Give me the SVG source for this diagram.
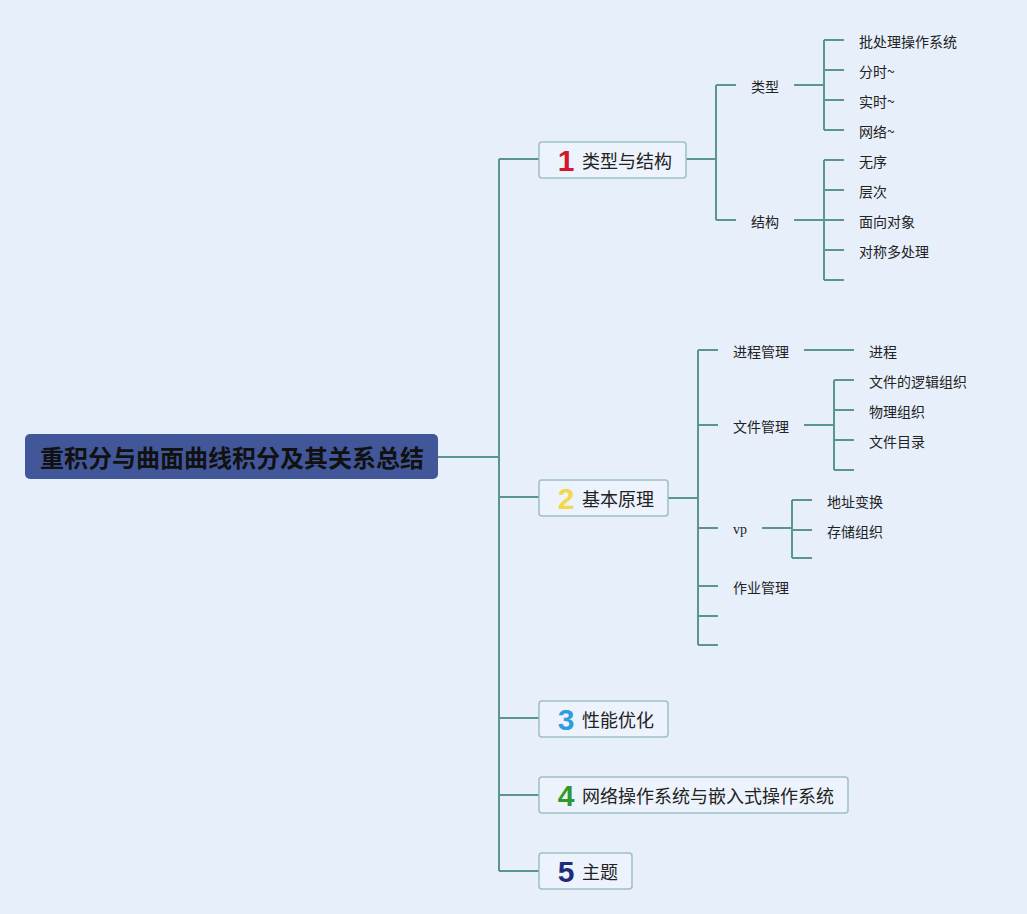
<svg xmlns="http://www.w3.org/2000/svg" width="1027" height="914" viewBox="0 0 1027 914">
<style>
.bg{fill:#E7EFFB}
.ln{fill:none;stroke:#5B958F;stroke-width:2}
.box{fill:#EDF3FC;stroke:#9CC1C5;stroke-width:1.5}
.root{fill:#42579A}
.rt{font-family:"Noto Sans CJK SC","Liberation Sans",sans-serif;font-weight:bold;font-size:24px;fill:#111}
.bt{font-family:"Noto Sans CJK SC","Liberation Sans",sans-serif;font-size:18px;fill:#222}
.num{font-family:"Liberation Sans","Noto Sans",sans-serif;font-weight:bold;font-size:30px;text-anchor:middle}
.st{font-family:"Noto Sans CJK SC","Liberation Sans",sans-serif;font-size:14px;fill:#222}
.vp{font-family:"Liberation Serif",serif;font-size:14px;fill:#222}
</style>
<rect class="bg" x="0" y="0" width="1027" height="914"/>
<g id="connectors">
<path class="ln" d="M438 457H499M499 159V871M499 159H539M499 497H539M499 718H539M499 795H539M499 871H539"/>
<path class="ln" d="M686 159H716M716 85V220M716 85H736M716 220H736"/>
<path class="ln" d="M794 85H824M824 40V130M824 40H844M824 70H844M824 100H844M824 130H844"/>
<path class="ln" d="M794 220H824M824 160V280M824 160H844M824 190H844M824 220H844M824 250H844M824 280H844"/>
<path class="ln" d="M668 498H698M698 350V645M698 350H718M698 425H718M698 528H718M698 586H718M698 616H718M698 645H718"/>
<path class="ln" d="M804 350H854"/>
<path class="ln" d="M804 425H834M834 380V470M834 380H854M834 410H854M834 440H854M834 470H854"/>
<path class="ln" d="M762 528H792M792 500V558M792 500H812M792 530H812M792 558H812"/>
</g>
<g id="root">
<rect class="root" x="25" y="434" width="413" height="45" rx="5"/>
<text class="rt" x="232" y="467" text-anchor="middle">重积分与曲面曲线积分及其关系总结</text>
</g>
<g id="n1">
<rect class="box" x="539" y="142" width="147" height="36" rx="3"/>
<text class="num" x="566" y="171" fill="#D3172C">1</text>
<text class="bt" x="582" y="168">类型与结构</text>
</g>
<g id="n2">
<rect class="box" x="539" y="480" width="129" height="36" rx="3"/>
<text class="num" x="566" y="509" fill="#F2D84A">2</text>
<text class="bt" x="582" y="506">基本原理</text>
</g>
<g id="n3">
<rect class="box" x="539" y="701" width="129" height="36" rx="3"/>
<text class="num" x="566" y="730" fill="#2E9DE0">3</text>
<text class="bt" x="582" y="727">性能优化</text>
</g>
<g id="n4">
<rect class="box" x="539" y="777" width="309" height="36" rx="3"/>
<text class="num" x="566" y="806" fill="#2E9A2E">4</text>
<text class="bt" x="582" y="803">网络操作系统与嵌入式操作系统</text>
</g>
<g id="n5">
<rect class="box" x="539" y="853" width="93" height="36" rx="3"/>
<text class="num" x="566" y="882" fill="#1F2A7C">5</text>
<text class="bt" x="582" y="879">主题</text>
</g>
<g id="n1a"><text class="st" x="751" y="92">类型</text></g>
<g id="n1b"><text class="st" x="751" y="227">结构</text></g>
<g id="n1a1"><text class="st" x="859" y="47">批处理操作系统</text></g>
<g id="n1a2"><text class="st" x="859" y="77">分时~</text></g>
<g id="n1a3"><text class="st" x="859" y="107">实时~</text></g>
<g id="n1a4"><text class="st" x="859" y="137">网络~</text></g>
<g id="n1b1"><text class="st" x="859" y="167">无序</text></g>
<g id="n1b2"><text class="st" x="859" y="197">层次</text></g>
<g id="n1b3"><text class="st" x="859" y="227">面向对象</text></g>
<g id="n1b4"><text class="st" x="859" y="257">对称多处理</text></g>
<g id="n2a"><text class="st" x="733" y="357">进程管理</text></g>
<g id="n2b"><text class="st" x="733" y="432">文件管理</text></g>
<g id="n2c"><text class="vp" x="733" y="534">vp</text></g>
<g id="n2d"><text class="st" x="733" y="593">作业管理</text></g>
<g id="n2a1"><text class="st" x="869" y="357">进程</text></g>
<g id="n2b1"><text class="st" x="869" y="387">文件的逻辑组织</text></g>
<g id="n2b2"><text class="st" x="869" y="417">物理组织</text></g>
<g id="n2b3"><text class="st" x="869" y="447">文件目录</text></g>
<g id="n2c1"><text class="st" x="827" y="507">地址变换</text></g>
<g id="n2c2"><text class="st" x="827" y="537">存储组织</text></g>
</svg>
